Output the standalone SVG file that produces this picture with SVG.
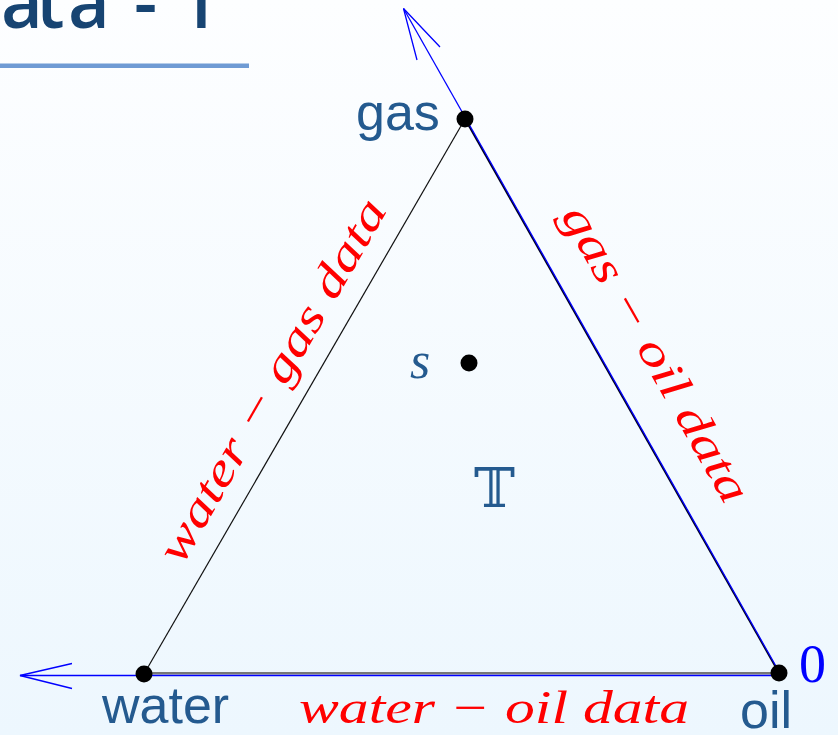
<svg xmlns="http://www.w3.org/2000/svg" width="838" height="735" viewBox="0 0 838 735">
  <defs>
    <linearGradient id="bg" x1="0" y1="0" x2="0" y2="1">
      <stop offset="0" stop-color="#fdfeff"/>
      <stop offset="1" stop-color="#edf7fe"/>
    </linearGradient>
    <style>
      .lbl { font-family: "Liberation Sans", Arial, sans-serif; font-size: 52px; fill: #245a8f; }
      .math { font-family: "Liberation Serif", "Times New Roman", serif; font-style: italic; font-size: 46px; fill: #ff0000; }
      .axis { stroke: #0000ff; stroke-width: 1.3; fill: none; }
      .edge { stroke: #111111; stroke-width: 1.2; fill: none; }
      .dot { fill: #000000; }
    </style>
  </defs>
  <rect x="0" y="0" width="838" height="735" fill="url(#bg)"/>

  <g id="title">
    <text x="1 36 68 110 134 160 178" y="28" font-family="'Open Sans', 'DejaVu Sans', sans-serif" font-size="72" font-weight="600" fill="#174472">ata - 1</text>
    <rect x="0" y="63.5" width="249" height="4.5" fill="#6f9bd4"/>
  </g>

  <g id="connectors">
    <line class="edge" x1="144" y1="674" x2="465" y2="119"/>
    <line x1="465" y1="119" x2="779" y2="673" stroke="#000022" stroke-width="1.8"/>
    <line x1="144" y1="673.3" x2="779" y2="673.3" stroke="#777777" stroke-width="2.6"/>
    <line class="axis" x1="781" y1="675" x2="403.5" y2="8.5"/>
    <path class="axis" d="M417,60 L403.5,8.5 L440,47"/>
    <line class="axis" x1="780" y1="675.5" x2="20" y2="675.5"/>
    <path class="axis" d="M72,663.5 L20,675.5 L72,688.5"/>
  </g>

  <g id="node-gas">
    <circle class="dot" cx="465" cy="119" r="8.5"/>
    <text class="lbl" x="356" y="130">gas</text>
  </g>
  <g id="node-water">
    <circle class="dot" cx="144" cy="674" r="8.5"/>
    <text class="lbl" x="102" y="723">water</text>
  </g>
  <g id="node-oil">
    <circle class="dot" cx="779" cy="673" r="8.5"/>
    <text class="lbl" x="740" y="728">oil</text>
    <text x="799" y="682" font-family="'Liberation Serif', 'Times New Roman', serif" font-size="54" fill="#0000ff">0</text>
  </g>
  <g id="node-s">
    <circle class="dot" cx="469" cy="363" r="8.5"/>
    <text x="410" y="378" font-family="'Liberation Serif', 'Times New Roman', serif" font-style="italic" font-size="52" fill="#245a8f">s</text>
  </g>
  <g id="node-T">
    <text x="474" y="507" font-family="'DejaVu Serif', 'DejaVu Sans', serif" font-size="55" fill="#245a8f">𝕋</text>
  </g>

  <g id="edge-labels">
    <text class="math" x="494" y="723" text-anchor="middle" textLength="390" lengthAdjust="spacingAndGlyphs">water − oil data</text>
    <text class="math" transform="translate(285,388) rotate(-60)" x="0" y="0" text-anchor="middle" textLength="412" lengthAdjust="spacingAndGlyphs">water − gas data</text>
    <text class="math" transform="translate(643,361) rotate(60.4)" x="0" y="0" text-anchor="middle" textLength="335" lengthAdjust="spacingAndGlyphs">gas − oil data</text>
  </g>
</svg>
